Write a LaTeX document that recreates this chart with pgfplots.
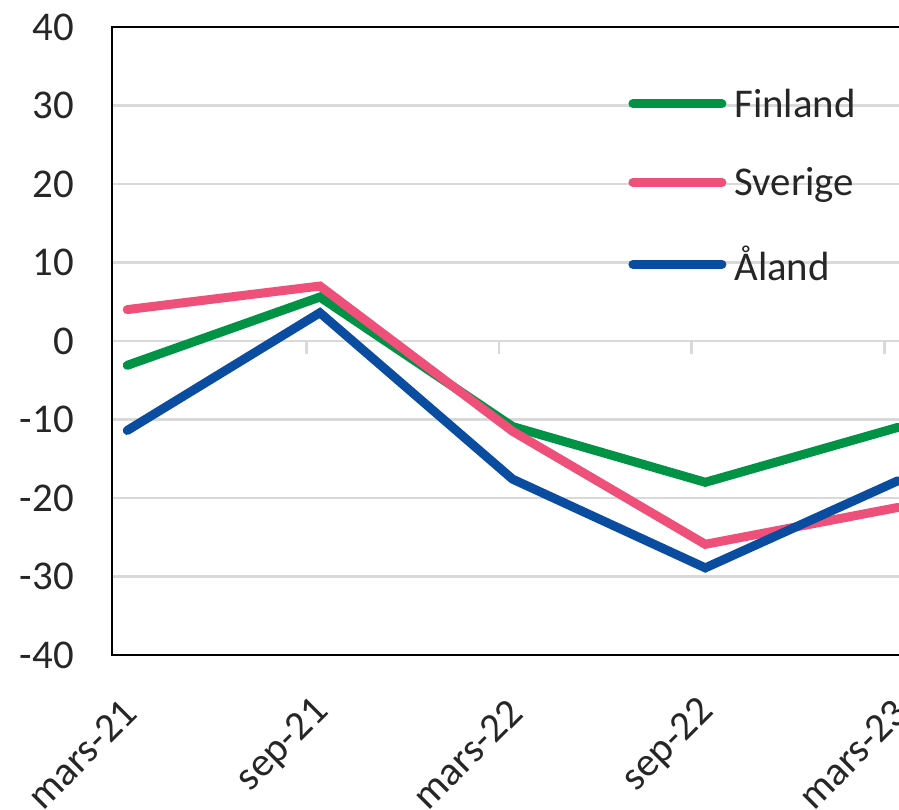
\documentclass[border=0pt]{standalone}
\usepackage{pgfplots}
\pgfplotsset{compat=1.18}
\usepackage{fontspec}
\setmainfont{Carlito}
\definecolor{fin}{RGB}{0,146,69}
\definecolor{sve}{RGB}{238,80,122}
\definecolor{ala}{RGB}{10,76,160}
\definecolor{gridc}{RGB}{217,217,217}
\definecolor{txt}{RGB}{38,38,38}

\pgfplotstableread{
x  fin    sve    ala
0  -3.1   4.0   -11.4
1   5.6   7.0     3.6
2 -10.9 -11.5   -17.6
3 -18.0 -25.9   -28.9
4 -11.0 -21.2   -17.8
}\datatable

\begin{document}
\begin{tikzpicture}
\begin{axis}[
  name=ax,
  scale only axis,
  width=843.8bp, height=628bp,
  xmin=-0.079, xmax=4.3,
  ymin=-40, ymax=40,
  xtick={0,1,2,3,4},
  xticklabels={mars-21,sep-21,mars-22,sep-22,mars-23},
  ytick={-40,-30,...,40},
  yticklabels={-40,-30,-20,-10,0,10,20,30,40},
  major tick length=0pt,
  ymajorgrids,
  grid style={gridc, line width=2.5bp},
  axis line style={black, line width=1.6bp},
  tick label style={font=\fontsize{41}{49}\selectfont, text=txt},
  yticklabel style={anchor=east, inner sep=0pt, xshift=-38bp},
  xticklabel style={xshift=3bp, yshift=-51bp, rotate=45, anchor=east, inner sep=0pt},
  legend style={draw=none, fill=none, inner sep=0pt, row sep=47bp, column sep=7bp,
    font=\fontsize{41}{49}\selectfont, text=txt,
    nodes={inner sep=1bp},
    at={(axis cs:2.60,19.8)}, anchor=west},
  legend cell align=left,
  legend image code/.code={\draw[#1, line cap=round] (0bp,0bp) -- (89bp,0bp);},
  every axis plot/.append style={line width=9bp, line cap=round, line join=miter},
]
\draw[gridc, line width=2.5bp] (axis cs:0.931,0) -- (axis cs:0.931,-1.65);
\draw[gridc, line width=2.5bp] (axis cs:1.930,0) -- (axis cs:1.930,-1.65);
\draw[gridc, line width=2.5bp] (axis cs:2.929,0) -- (axis cs:2.929,-1.65);
\draw[gridc, line width=2.5bp] (axis cs:3.930,0) -- (axis cs:3.930,-1.65);
\addplot[fin] table[x=x, y=fin] {\datatable};
\addlegendentry{Finland}
\addplot[sve] table[x=x, y=sve] {\datatable};
\addlegendentry{Sverige}
\addplot[ala] table[x=x, y=ala] {\datatable};
\addlegendentry{Åland}
\end{axis}
\pgfresetboundingbox
\path[use as bounding box] ([xshift=-112bp,yshift=-155bp]ax.south west) rectangle ([xshift=787bp,yshift=655bp]ax.south west);
\end{tikzpicture}
\end{document}
